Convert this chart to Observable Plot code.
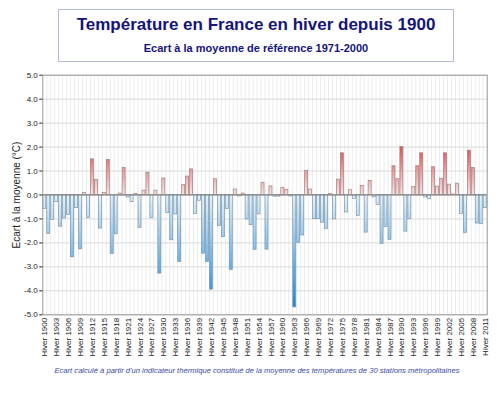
<!DOCTYPE html>
<html>
<head>
<meta charset="utf-8">
<script src="https://cdn.jsdelivr.net/npm/d3@7"></script>
<script src="https://cdn.jsdelivr.net/npm/@observablehq/plot@0.6"></script>
<style>
  html, body { margin: 0; padding: 0; background: #fff; }
  #page { position: relative; width: 500px; height: 393px; overflow: hidden; font-family: "Liberation Sans", Arial, sans-serif; }
  #titlebox { position: absolute; left: 58px; top: 9px; width: 394px; height: 51px; border: 1px solid #b4b9e0; background: #fff; text-align: center; color: #14147a; }
  #title { position: absolute; left: 0; right: 0; top: 5px; font-size: 17px; font-weight: bold; }
  #subtitle { position: absolute; left: 0; right: 0; top: 32px; font-size: 11px; font-weight: bold; }
  #chart { position: absolute; left: 0; top: 64px; }
  #caption { position: absolute; left: 0; width: 514px; top: 366px; text-align: center; font-size: 7.6px; font-style: italic; color: #3a4aa8; }
</style>
</head>
<body>
<div id="page">
  <div id="titlebox">
    <div id="title">Température en France en hiver depuis 1900</div>
    <div id="subtitle">Ecart à la moyenne de référence 1971-2000</div>
  </div>
  <div id="chart"></div>
  <div id="caption">Ecart calculé à partir d'un indicateur thermique constitué de la moyenne des températures de 30 stations métropolitaines</div>
</div>
<script>
const years = d3.range(1900, 2012);
const anomalies = [
  -0.58, -1.63, -1.04, -0.30, -1.32, -0.98, -0.84, -2.60, -0.55, -2.27,
   0.09, -0.96,  1.49,  0.63, -1.40,  0.09,  1.46, -2.46, -1.64,  0.06,
   1.13, -0.10, -0.30,  0.04, -1.37,  0.18,  0.93, -0.96,  0.18, -3.28,
   0.69, -0.76, -1.89, -0.81, -2.80,  0.41,  0.77,  1.07, -0.80, -0.24,
  -2.45, -2.80, -3.95,  0.66, -1.30, -1.76, -0.59, -3.13,  0.23, -0.06,
   0.06, -1.02, -1.26, -2.29, -0.81,  0.51, -2.28,  0.36, -0.07, -0.07,
   0.30,  0.22, -0.06, -4.69, -2.00, -1.69,  1.01,  0.23, -1.01, -1.01,
  -1.16, -1.42,  0.05, -1.02,  0.64,  1.74, -0.73,  0.20, -0.16, -0.87,
   0.38, -1.57,  0.59, -0.10, -0.41, -2.04, -1.33, -1.88,  1.20,  0.66,
   2.00, -1.53, -1.01,  0.33,  1.20,  1.74, -0.10, -0.18,  1.16,  0.35,
   0.68,  1.74,  0.43,  0.02,  0.47, -0.79, -1.58,  1.85,  1.13, -1.19,
  -1.22, -0.55
];
const tickYears = d3.range(1900, 2012, 3);
const yTicks = d3.range(-5, 6, 1);
const tickPrefix = "Hiver ";
const yLabel = "Ecart à la moyenne (°C)";

const data = years.map((year, i) => ({year, value: anomalies[i]}));
const pos = data.filter(d => d.value >= 0);
const neg = data.filter(d => d.value < 0);
const half = 0.38;

const chart = Plot.plot({
  width: 500,
  height: 300,
  marginTop: 10.7,
  marginBottom: 49.7,
  marginLeft: 42.3,
  marginRight: 13.3,
  style: {fontFamily: "Liberation Sans, Arial, sans-serif", fontSize: "8px", color: "#222", background: "transparent"},
  x: {type: "linear", domain: [years[0] - 0.5, years[years.length - 1] + 0.5]},
  y: {domain: [-5, 5]},
  marks: [
    Plot.ruleX(years, {x: d => d + 0.5, stroke: "#ececec", strokeWidth: 1}),
    Plot.gridY({ticks: yTicks, stroke: "#d9d9d9", strokeOpacity: 1}),
    Plot.rect(pos, {x1: d => d.year - half, x2: d => d.year + half, y1: 0, y2: "value", fill: "url(#gradPos)", stroke: "#9a8080", strokeWidth: 0.7}),
    Plot.rect(neg, {x1: d => d.year - half, x2: d => d.year + half, y1: 0, y2: "value", fill: "url(#gradNeg)", stroke: "#7f93a3", strokeWidth: 0.7}),
    Plot.ruleY([0], {stroke: "#7a7a7a", strokeWidth: 1}),
    Plot.frame({stroke: "#9a9a9a"}),
    Plot.axisY({ticks: yTicks, tickFormat: d => d.toFixed(1), tickSize: 3, tickPadding: 2, fontSize: 8, label: yLabel, labelAnchor: "center", labelArrow: "none", labelOffset: 30}),
    Plot.axisX({ticks: tickYears, tickFormat: d => tickPrefix + d, tickRotate: -90, tickSize: 0, tickPadding: 3, fontSize: 8, label: null})
  ]
});

const ys = chart.scale("y");
const y0 = ys.apply(0);
const defs = d3.select(chart).insert("defs", ":first-child");
const gp = defs.append("linearGradient").attr("id", "gradPos").attr("gradientUnits", "userSpaceOnUse")
  .attr("x1", 0).attr("x2", 0).attr("y1", y0).attr("y2", ys.apply(2.0));
gp.append("stop").attr("offset", 0).attr("stop-color", "#fde4e4");
gp.append("stop").attr("offset", 1).attr("stop-color", "#e45050");
const gn = defs.append("linearGradient").attr("id", "gradNeg").attr("gradientUnits", "userSpaceOnUse")
  .attr("x1", 0).attr("x2", 0).attr("y1", y0).attr("y2", ys.apply(-4.7));
gn.append("stop").attr("offset", 0).attr("stop-color", "#e4f4fe");
gn.append("stop").attr("offset", 1).attr("stop-color", "#1688e4");

d3.select(chart).selectAll("g[aria-label='y-axis label'] text").style("font-size", "10px").attr("fill", "#222");

document.getElementById("chart").appendChild(chart);
</script>
</body>
</html>
